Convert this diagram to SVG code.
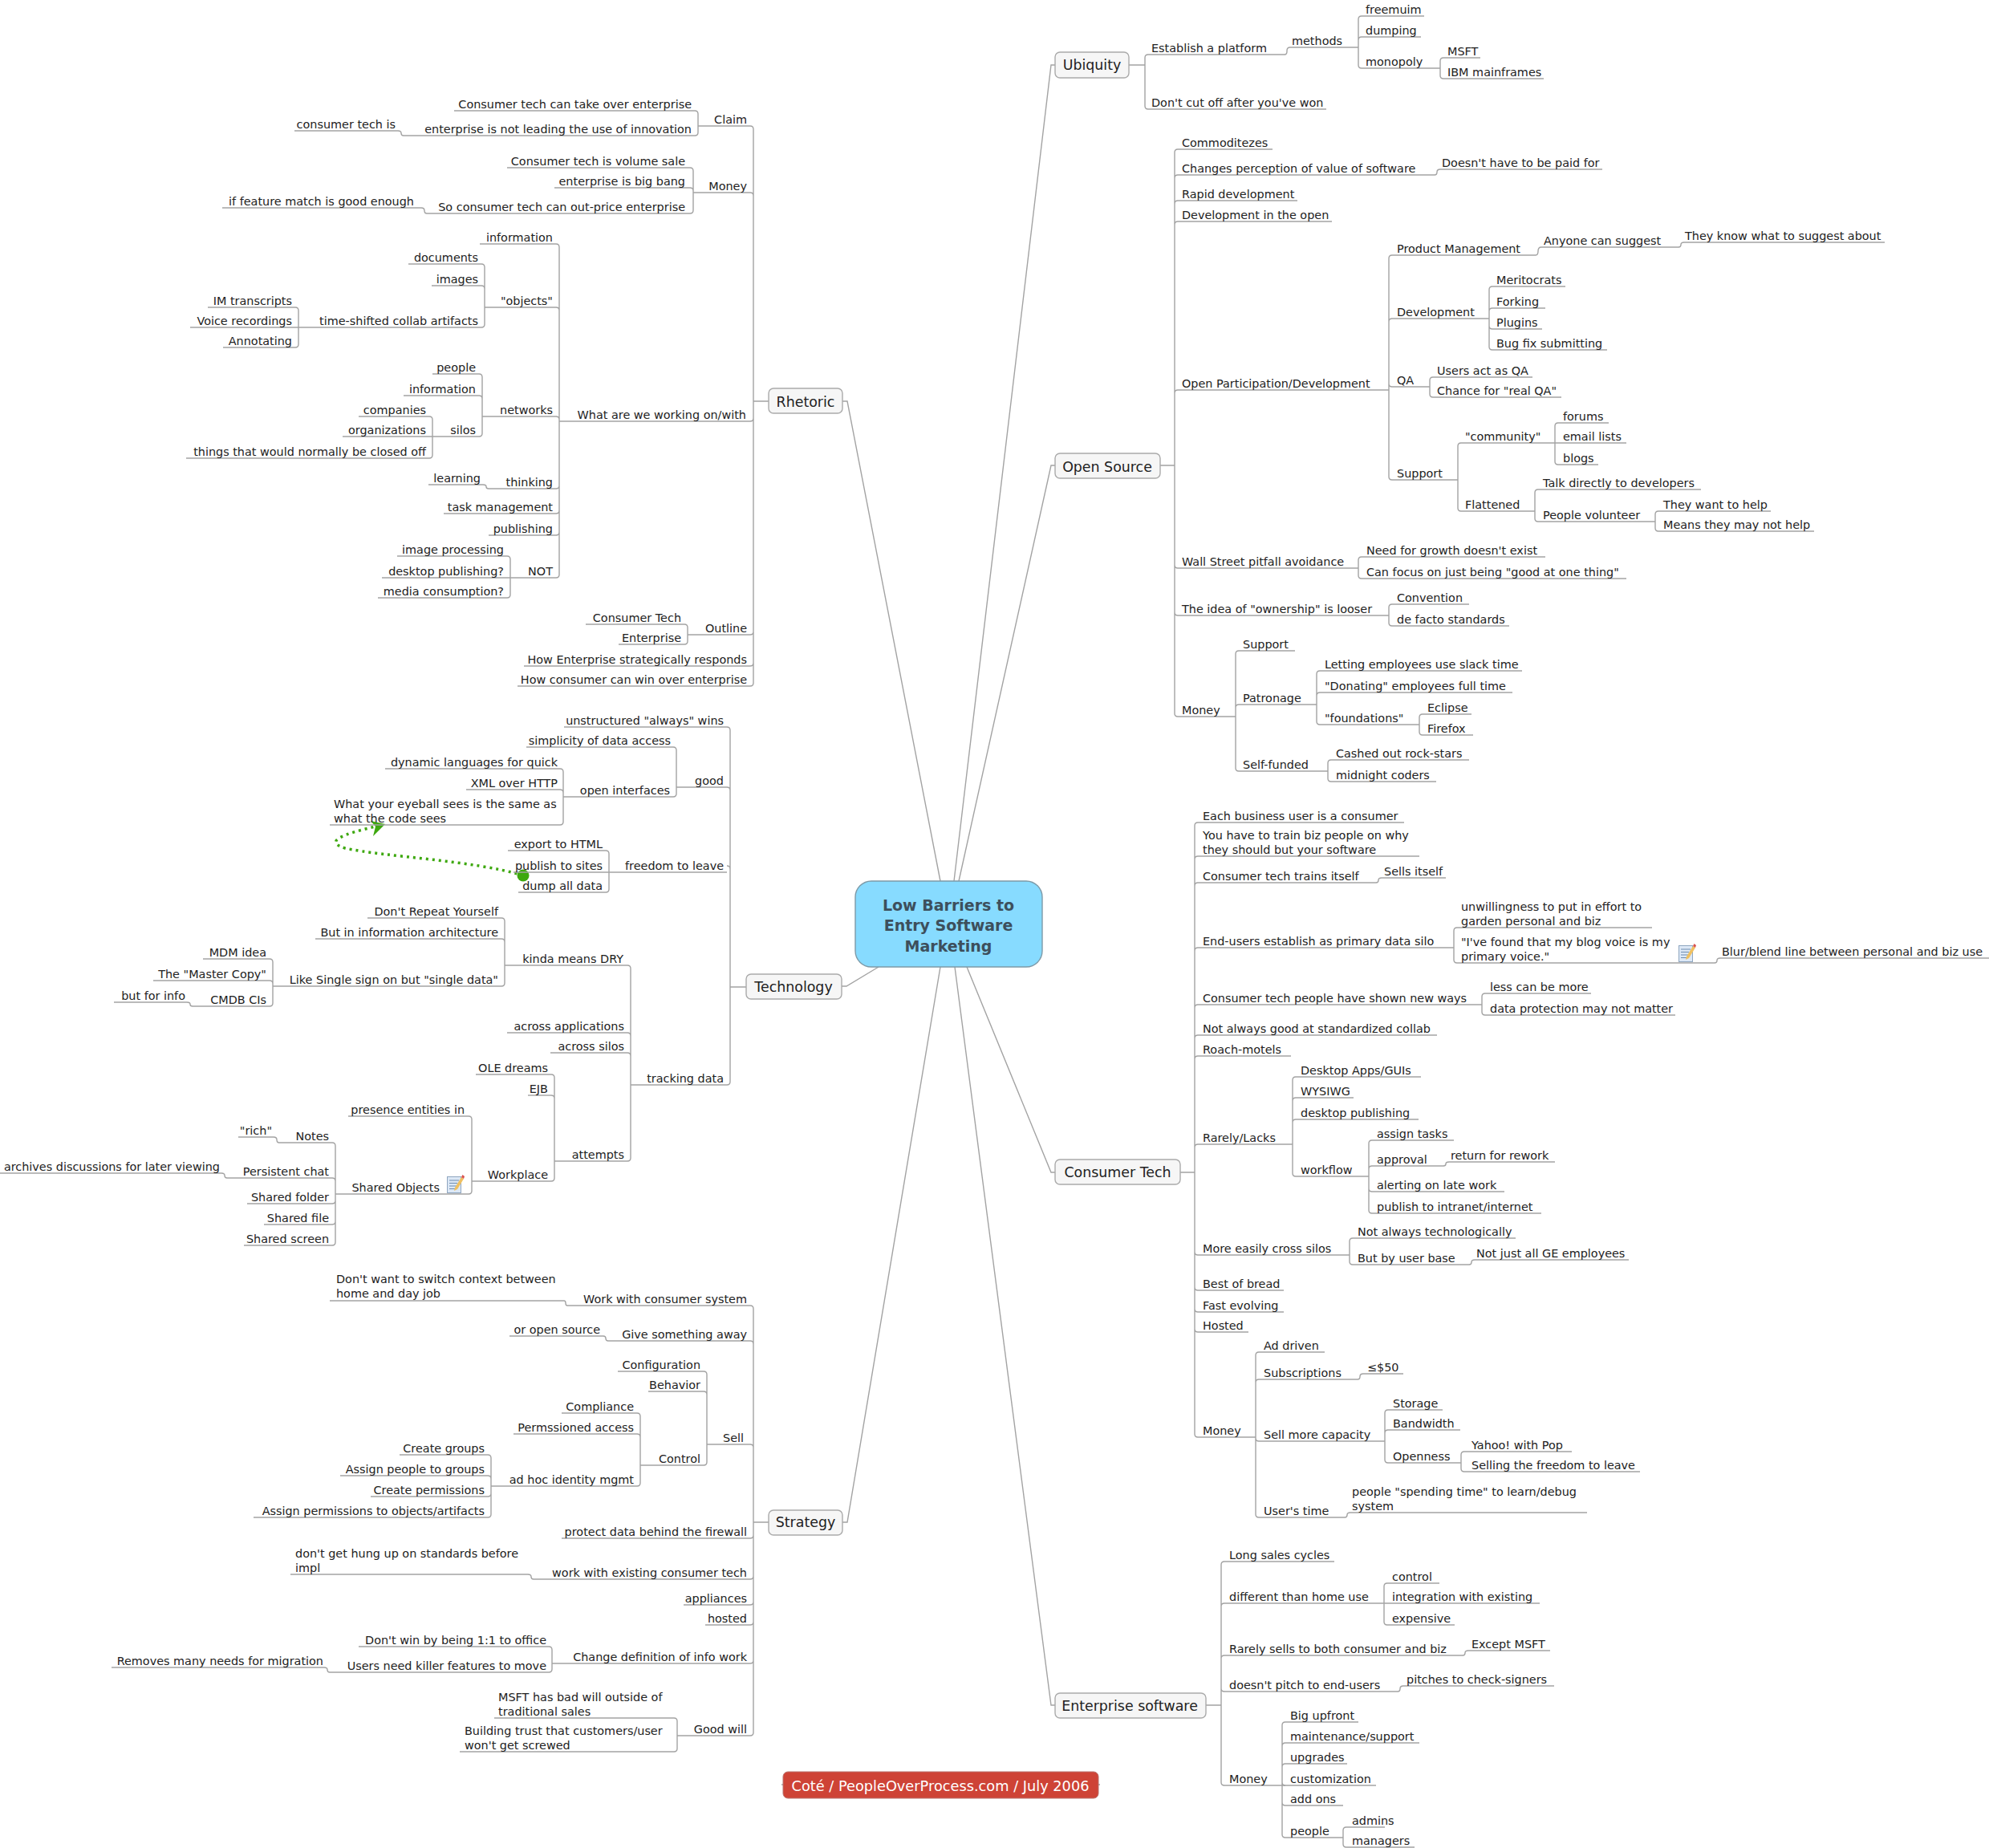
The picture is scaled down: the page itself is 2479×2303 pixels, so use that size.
<svg xmlns="http://www.w3.org/2000/svg" width="2479" height="2303" viewBox="0 0 2479 2303">
<style>
text{font-family:"DejaVu Sans",sans-serif;font-size:14.4px;fill:#222}
.e{text-anchor:end}
path{fill:none;stroke:#a3a3a3;stroke-width:1.4}
.b{fill:#f6f6f6;stroke:#aaa;stroke-width:1.4}
.t{font-size:17.4px;text-anchor:middle}
.c{font-size:19px;font-weight:bold;text-anchor:middle;fill:#3d4f5c}
</style>
<defs>
<symbol id="note" viewBox="0 0 22 24">
<rect x="0.5" y="3.5" width="17" height="20" fill="#dce8f6" stroke="#8fa6c0"/>
<path d="M3 8h12M3 11.5h10M3 15h9M3 18.500h8" style="stroke:#6f8db0;stroke-width:1"/>
<polygon points="10,17 18,4 21,6 13,19 9,21" fill="#f0c060"/>
<polygon points="18,4 19.500,1 22,3 21,6" fill="#d9534f"/>
</symbol>
</defs>
<rect width="2479" height="2303" fill="#fff"/>
<g id="connectors">
<path d="M1315 81H1310L1189 1098M1315 580H1310L1195 1098M1315 1461H1310L1205 1205M1315 2125H1310L1190 1205M1050 500H1056L1172 1098M1049 1229H1055L1095 1205M1050 1897H1056L1172 1205"/>
<path d="M1407 81H1427M1427 72V132M1427 72q0-4 4-4M1427 132q0 4 4 4"/>
<path d="M1601 68q3 0 3-4v-1q0-4 4-4"/>
<path d="M1693 24V81M1693 24q0-4 4-4M1693 50q0-4 4-4M1693 81q0 4 4 4"/>
<path d="M1795 76V94M1795 76q0-4 4-4M1795 94q0 4 4 4"/>
<path d="M1446 580H1464M1464 190V889M1464 190q0-4 4-4M1464 222q0-4 4-4M1464 254q0-4 4-4M1464 280q0-4 4-4M1464 490q0-4 4-4M1464 704q0 4 4 4M1464 763q0 4 4 4M1464 889q0 4 4 4"/>
<path d="M1788 218q3 0 3-3.500q0-3.500 4-3.500"/>
<path d="M1731 322V594M1731 322q0-4 4-4M1731 401q0-4 4-4M1731 478q0 4 4 4M1731 594q0 4 4 4"/>
<path d="M1914 318q3 0 3-5q0-5 4-5M2092 308q3 0 3-3q0-3 4-3"/>
<path d="M1856 361V432M1856 361q0-4 4-4M1856 388q0-4 4-4M1856 406q0 4 4 4M1856 432q0 4 4 4"/>
<path d="M1782 474V491M1782 474q0-4 4-4M1782 491q0 4 4 4"/>
<path d="M1817 556V633M1817 556q0-4 4-4M1817 633q0 4 4 4"/>
<path d="M1938 531V575M1938 531q0-4 4-4M1938 575q0 4 4 4"/>
<path d="M1913 614V646M1913 614q0-4 4-4M1913 646q0 4 4 4"/>
<path d="M2063 641V658M2063 641q0-4 4-4M2063 658q0 4 4 4"/>
<path d="M1693 698V717M1693 698q0-4 4-4M1693 717q0 4 4 4"/>
<path d="M1731 757V776M1731 757q0-4 4-4M1731 776q0 4 4 4"/>
<path d="M1540 815V957M1540 815q0-4 4-4M1540 882q0-4 4-4M1540 957q0 4 4 4"/>
<path d="M1641 840V899M1641 840q0-4 4-4M1641 867q0-4 4-4M1641 899q0 4 4 4"/>
<path d="M1769 894V912M1769 894q0-4 4-4M1769 912q0 4 4 4"/>
<path d="M1655 951V970M1655 951q0-4 4-4M1655 970q0 4 4 4"/>
<path d="M1471 1461H1489M1489 1029V1787M1489 1029q0-4 4-4M1489 1071q0-4 4-4M1489 1104q0-4 4-4M1489 1185q0-4 4-4M1489 1256q0-4 4-4M1489 1294q0-4 4-4M1489 1320q0-4 4-4M1489 1430q0-4 4-4M1489 1560q0 4 4 4M1489 1604q0 4 4 4M1489 1631q0 4 4 4M1489 1656q0 4 4 4M1489 1787q0 4 4 4"/>
<path d="M1715 1100q3 0 3-3q0-3 4-3"/>
<path d="M1812 1160V1196M1812 1160q0-4 4-4M1812 1196q0 4 4 4"/>
<path d="M2137 1200q3 0 3-3q0-3 4-3"/>
<path d="M1847 1242V1261M1847 1242q0-4 4-4M1847 1261q0 4 4 4"/>
<path d="M1611 1346V1462M1611 1346q0-4 4-4M1611 1372q0-4 4-4M1611 1399q0-4 4-4M1611 1462q0 4 4 4"/>
<path d="M1706 1425V1508M1706 1425q0-4 4-4M1706 1457q0-4 4-4M1706 1481q0 4 4 4M1706 1508q0 4 4 4"/>
<path d="M1799 1453q3 0 3-2.500q0-2.500 4-2.500"/>
<path d="M1682 1547V1572M1682 1547q0-4 4-4M1682 1572q0 4 4 4"/>
<path d="M1831 1576q3 0 3-3q0-3 4-3"/>
<path d="M1565 1689V1887M1565 1689q0-4 4-4M1565 1723q0-4 4-4M1565 1792q0 4 4 4M1565 1887q0 4 4 4"/>
<path d="M1692 1719q3 0 3-3.500q0-3.500 4-3.500"/>
<path d="M1726 1761V1819M1726 1761q0-4 4-4M1726 1786q0-4 4-4M1726 1819q0 4 4 4"/>
<path d="M1821 1813V1830M1821 1813q0-4 4-4M1821 1830q0 4 4 4"/>
<path d="M1676 1891q3 0 3-3q0-3 4-3"/>
<path d="M1503 2125H1522M1522 1950V2221M1522 1950q0-4 4-4M1522 2002q0-4 4-4M1522 2067q0-4 4-4M1522 2104q0 4 4 4M1522 2221q0 4 4 4"/>
<path d="M1725 1977V2021M1725 1977q0-4 4-4M1725 2021q0 4 4 4"/>
<path d="M1823 2063q3 0 3-3q0-3 4-3M1742 2108q3 0 3-3.500q0-3.500 4-3.500"/>
<path d="M1598 2150V2286M1598 2150q0-4 4-4M1598 2176q0-4 4-4M1598 2202q0-4 4-4M1598 2221q0 4 4 4M1598 2246q0 4 4 4M1598 2286q0 4 4 4"/>
<path d="M1674 2281V2298M1674 2281q0-4 4-4M1674 2298q0 4 4 4"/>
<path d="M958 500H939M939 161V851M939 161q0-4-4-4M939 244q0-4-4-4M939 521q0 4-4 4M939 787q0 4-4 4M939 826q0 4-4 4M939 851q0 4-4 4"/>
<path d="M870 142V165M870 142q0-4-4-4M870 165q0 4-4 4"/>
<path d="M503 169q-3 0-3-3q0-3-4-3"/>
<path d="M864 213V262M864 213q0-4-4-4M864 238q0-4-4-4M864 262q0 4-4 4"/>
<path d="M532 266q-3 0-3-3.500q0-3.500-4-3.500"/>
<path d="M697 308V716M697 308q0-4-4-4M697 387q0-4-4-4M697 523q0-4-4-4M697 605q0 4-4 4M697 636q0 4-4 4M697 663q0 4-4 4M697 716q0 4-4 4"/>
<path d="M604 333V404M604 333q0-4-4-4M604 360q0-4-4-4M604 404q0 4-4 4"/>
<path d="M372 387V429M372 387q0-4-4-4M372 429q0 4-4 4"/>
<path d="M601 470V540M601 470q0-4-4-4M601 497q0-4-4-4M601 540q0 4-4 4"/>
<path d="M539 523V567M539 523q0-4-4-4M539 567q0 4-4 4"/>
<path d="M609 609q-3 0-3-2.500q0-2.500-4-2.500"/>
<path d="M636 697V741M636 697q0-4-4-4M636 741q0 4-4 4"/>
<path d="M857 782V799M857 782q0-4-4-4M857 799q0 4-4 4"/>
<path d="M930 1230H910M910 910V1348M910 910q0-4-4-4M910 985q0-4-4-4M910 1083q0-4-4-4M910 1348q0 4-4 4"/>
<path d="M843 935V989M843 935q0-4-4-4M843 989q0 4-4 4"/>
<path d="M702 962V1024M702 962q0-4-4-4M702 988q0-4-4-4M702 1024q0 4-4 4"/>
<path d="M759 1064V1108M759 1064q0-4-4-4M759 1108q0 4-4 4"/>
<path d="M786 1207V1443M786 1207q0-4-4-4M786 1291q0-4-4-4M786 1316q0-4-4-4M786 1443q0 4-4 4"/>
<path d="M629 1148V1225M629 1148q0-4-4-4M629 1174q0-4-4-4M629 1225q0 4-4 4"/>
<path d="M340 1199V1250M340 1199q0-4-4-4M340 1226q0-4-4-4M340 1250q0 4-4 4"/>
<path d="M240 1254q-3 0-3-2.500q0-2.500-4-2.500"/>
<path d="M691 1343V1468M691 1343q0-4-4-4M691 1369q0-4-4-4M691 1468q0 4-4 4"/>
<path d="M588 1395V1484M588 1395q0-4-4-4M588 1484q0 4-4 4"/>
<path d="M418 1428V1548M418 1428q0-4-4-4M418 1472q0-4-4-4M418 1496q0 4-4 4M418 1522q0 4-4 4M418 1548q0 4-4 4"/>
<path d="M348 1424q-3 0-3-3.500q0-3.500-4-3.500M283 1468q-3 0-3-3q0-3-4-3"/>
<path d="M958 1897H939M939 1631V2159M939 1631q0-4-4-4M939 1675q0-4-4-4M939 1804q0-4-4-4M939 1913q0 4-4 4M939 1964q0 4-4 4M939 1996q0 4-4 4M939 2021q0 4-4 4M939 2069q0 4-4 4M939 2159q0 4-4 4"/>
<path d="M707 1627q-2 0-2-3q0-3-2-3M758 1671q-3 0-3-3q0-3-3-3M665 1968q-3 0-3-3q0-3-4-3"/>
<path d="M881 1713V1822M881 1713q0-4-4-4M881 1738q0-4-4-4M881 1822q0 4-4 4"/>
<path d="M798 1765V1848M798 1765q0-4-4-4M798 1791q0-4-4-4M798 1848q0 4-4 4"/>
<path d="M612 1817V1887M612 1817q0-4-4-4M612 1843q0-4-4-4M612 1861q0 4-4 4M612 1887q0 4-4 4"/>
<path d="M688 2056V2080M688 2056q0-4-4-4M688 2080q0 4-4 4"/>
<path d="M411 2084q-3 0-3-3q0-3-4-3"/>
<path d="M844 2145V2179M844 2145q0-4-4-4M844 2179q0 4-4 4"/>
<path d="M974 2224H976M1369 2224H1371"/>
<path d="M652 1091C590 1072 480 1068 430 1057C408 1050 416 1042 468 1030" style="stroke:#3ea80f;stroke-width:3.500;stroke-dasharray:3 5"/>
<circle cx="652" cy="1091" r="7.500" fill="#3ea80f"/>
<polygon points="480,1027 462,1023 468,1030 465,1042" fill="#3ea80f"/>
</g>
<g id="center"><rect x="1066" y="1098" width="233" height="107" rx="20" fill="#87dbff" stroke="#7d9aa8" stroke-width="1.400"/><text class="c" x="1182" y="1135">Low Barriers to</text><text class="c" x="1182" y="1160">Entry Software</text><text class="c" x="1182" y="1186">Marketing</text></g>
<g id="ubiquity"><rect class="b" x="1315" y="65" width="92" height="32" rx="6"/><text class="t" x="1361" y="87">Ubiquity</text></g>
<g id="n1"><path d="M1431 68H1601"/><text x="1435" y="65">Establish a platform</text></g>
<g id="n2"><path d="M1608 59H1693"/><text x="1610" y="56">methods</text></g>
<g id="n3"><path d="M1697 20H1775"/><text x="1702" y="17">freemuim</text></g>
<g id="n4"><path d="M1697 46H1771"/><text x="1702" y="43">dumping</text></g>
<g id="n5"><path d="M1697 85H1795"/><text x="1702" y="82">monopoly</text></g>
<g id="n6"><path d="M1799 72H1845"/><text x="1804" y="69">MSFT</text></g>
<g id="n7"><path d="M1799 98H1924"/><text x="1804" y="95">IBM mainframes</text></g>
<g id="n8"><path d="M1431 136H1653"/><text x="1435" y="133">Don't cut off after you've won</text></g>
<g id="open-source"><rect class="b" x="1315" y="565" width="131" height="31" rx="6"/><text class="t" x="1380" y="588">Open Source</text></g>
<g id="n9"><path d="M1468 186H1586"/><text x="1473" y="183">Commoditezes</text></g>
<g id="n10"><path d="M1468 218H1788"/><text x="1473" y="215">Changes perception of value of software</text></g>
<g id="n11"><path d="M1795 211H1997"/><text x="1797" y="208">Doesn't have to be paid for</text></g>
<g id="n12"><path d="M1468 250H1617"/><text x="1473" y="247">Rapid development</text></g>
<g id="n13"><path d="M1468 276H1660"/><text x="1473" y="273">Development in the open</text></g>
<g id="n14"><path d="M1468 486H1731"/><text x="1473" y="483">Open Participation/Development</text></g>
<g id="n15"><path d="M1735 318H1914"/><text x="1741" y="315">Product Management</text></g>
<g id="n16"><path d="M1921 308H2092"/><text x="1924" y="305">Anyone can suggest</text></g>
<g id="n17"><path d="M2099 302H2349"/><text x="2100" y="299">They know what to suggest about</text></g>
<g id="n18"><path d="M1735 397H1856"/><text x="1741" y="394">Development</text></g>
<g id="n19"><path d="M1860 357H1951"/><text x="1865" y="354">Meritocrats</text></g>
<g id="n20"><path d="M1860 384H1926"/><text x="1865" y="381">Forking</text></g>
<g id="n21"><path d="M1860 410H1922"/><text x="1865" y="407">Plugins</text></g>
<g id="n22"><path d="M1860 436H2003"/><text x="1865" y="433">Bug fix submitting</text></g>
<g id="n23"><path d="M1735 482H1782"/><text x="1741" y="479">QA</text></g>
<g id="n24"><path d="M1786 470H1910"/><text x="1791" y="467">Users act as QA</text></g>
<g id="n25"><path d="M1786 495H1946"/><text x="1791" y="492">Chance for "real QA"</text></g>
<g id="n26"><path d="M1735 598H1817"/><text x="1741" y="595">Support</text></g>
<g id="n27"><path d="M1821 552H1938"/><text x="1826" y="549">"community"</text></g>
<g id="n28"><path d="M1942 527H2005"/><text x="1948" y="524">forums</text></g>
<g id="n29"><path d="M1938 552H2027"/><text x="1948" y="549">email lists</text></g>
<g id="n30"><path d="M1942 579H1992"/><text x="1948" y="576">blogs</text></g>
<g id="n31"><path d="M1821 637H1913"/><text x="1826" y="634">Flattened</text></g>
<g id="n32"><path d="M1917 610H2120"/><text x="1923" y="607">Talk directly to developers</text></g>
<g id="n33"><path d="M1917 650H2063"/><text x="1923" y="647">People volunteer</text></g>
<g id="n34"><path d="M2067 637H2207"/><text x="2073" y="634">They want to help</text></g>
<g id="n35"><path d="M2067 662H2261"/><text x="2073" y="659">Means they may not help</text></g>
<g id="n36"><path d="M1468 708H1693"/><text x="1473" y="705">Wall Street pitfall avoidance</text></g>
<g id="n37"><path d="M1697 694H1926"/><text x="1703" y="691">Need for growth doesn't exist</text></g>
<g id="n38"><path d="M1697 721H2027"/><text x="1703" y="718">Can focus on just being "good at one thing"</text></g>
<g id="n39"><path d="M1468 767H1731"/><text x="1473" y="764">The idea of "ownership" is looser</text></g>
<g id="n40"><path d="M1735 753H1831"/><text x="1741" y="750">Convention</text></g>
<g id="n41"><path d="M1735 780H1881"/><text x="1741" y="777">de facto standards</text></g>
<g id="n42"><path d="M1468 893H1540"/><text x="1473" y="890">Money</text></g>
<g id="n43"><path d="M1544 811H1614"/><text x="1549" y="808">Support</text></g>
<g id="n44"><path d="M1544 878H1641"/><text x="1549" y="875">Patronage</text></g>
<g id="n45"><path d="M1645 836H1897"/><text x="1651" y="833">Letting employees use slack time</text></g>
<g id="n46"><path d="M1645 863H1885"/><text x="1651" y="860">"Donating" employees full time</text></g>
<g id="n47"><path d="M1645 903H1769"/><text x="1651" y="900">"foundations"</text></g>
<g id="n48"><path d="M1773 890H1834"/><text x="1779" y="887">Eclipse</text></g>
<g id="n49"><path d="M1773 916H1836"/><text x="1779" y="913">Firefox</text></g>
<g id="n50"><path d="M1544 961H1655"/><text x="1549" y="958">Self-funded</text></g>
<g id="n51"><path d="M1659 947H1831"/><text x="1665" y="944">Cashed out rock-stars</text></g>
<g id="n52"><path d="M1659 974H1790"/><text x="1665" y="971">midnight coders</text></g>
<g id="consumer-tech"><rect class="b" x="1315" y="1445" width="156" height="31" rx="6"/><text class="t" x="1393" y="1467">Consumer Tech</text></g>
<g id="n53"><path d="M1493 1025H1750"/><text x="1499" y="1022">Each business user is a consumer</text></g>
<g id="n54"><path d="M1493 1067H1769"/><text x="1499" y="1046">You have to train biz people on why</text><text x="1499" y="1064">they should but your software</text></g>
<g id="n55"><path d="M1493 1100H1715"/><text x="1499" y="1097">Consumer tech trains itself</text></g>
<g id="n56"><path d="M1722 1094H1802"/><text x="1725" y="1091">Sells itself</text></g>
<g id="n57"><path d="M1493 1181H1812"/><text x="1499" y="1178">End-users establish as primary data silo</text></g>
<g id="n58"><path d="M1816 1156H2059"/><text x="1821" y="1135">unwillingness to put in effort to</text><text x="1821" y="1153">garden personal and biz</text></g>
<g id="n59"><path d="M1816 1200H2137"/><text x="1821" y="1179">"I've found that my blog voice is my</text><text x="1821" y="1197">primary voice."</text><use href="#note" x="2092" y="1175" width="22" height="24"/></g>
<g id="n60"><path d="M2144 1194H2479"/><text x="2146" y="1191">Blur/blend line between personal and biz use</text></g>
<g id="n61"><path d="M1493 1252H1847"/><text x="1499" y="1249">Consumer tech people have shown new ways</text></g>
<g id="n62"><path d="M1851 1238H1983"/><text x="1857" y="1235">less can be more</text></g>
<g id="n63"><path d="M1851 1265H2088"/><text x="1857" y="1262">data protection may not matter</text></g>
<g id="n64"><path d="M1493 1290H1791"/><text x="1499" y="1287">Not always good at standardized collab</text></g>
<g id="n65"><path d="M1493 1316H1609"/><text x="1499" y="1313">Roach-motels</text></g>
<g id="n66"><path d="M1493 1426H1611"/><text x="1499" y="1423">Rarely/Lacks</text></g>
<g id="n67"><path d="M1615 1342H1771"/><text x="1621" y="1339">Desktop Apps/GUIs</text></g>
<g id="n68"><path d="M1615 1368H1687"/><text x="1621" y="1365">WYSIWG</text></g>
<g id="n69"><path d="M1615 1395H1768"/><text x="1621" y="1392">desktop publishing</text></g>
<g id="n70"><path d="M1615 1466H1706"/><text x="1621" y="1463">workflow</text></g>
<g id="n71"><path d="M1710 1421H1812"/><text x="1716" y="1418">assign tasks</text></g>
<g id="n72"><path d="M1710 1453H1799"/><text x="1716" y="1450">approval</text></g>
<g id="n73"><path d="M1806 1448H1938"/><text x="1808" y="1445">return for rework</text></g>
<g id="n74"><path d="M1710 1485H1875"/><text x="1716" y="1482">alerting on late work</text></g>
<g id="n75"><path d="M1710 1512H1921"/><text x="1716" y="1509">publish to intranet/internet</text></g>
<g id="n76"><path d="M1493 1564H1682"/><text x="1499" y="1561">More easily cross silos</text></g>
<g id="n77"><path d="M1686 1543H1889"/><text x="1692" y="1540">Not always technologically</text></g>
<g id="n78"><path d="M1686 1576H1831"/><text x="1692" y="1573">But by user base</text></g>
<g id="n79"><path d="M1838 1570H2030"/><text x="1840" y="1567">Not just all GE employees</text></g>
<g id="n80"><path d="M1493 1608H1600"/><text x="1499" y="1605">Best of bread</text></g>
<g id="n81"><path d="M1493 1635H1600"/><text x="1499" y="1632">Fast evolving</text></g>
<g id="n82"><path d="M1493 1660H1556"/><text x="1499" y="1657">Hosted</text></g>
<g id="n83"><path d="M1493 1791H1565"/><text x="1499" y="1788">Money</text></g>
<g id="n84"><path d="M1569 1685H1651"/><text x="1575" y="1682">Ad driven</text></g>
<g id="n85"><path d="M1569 1719H1692"/><text x="1575" y="1716">Subscriptions</text></g>
<g id="n86"><path d="M1699 1712H1749"/><text x="1704" y="1709">≤$50</text></g>
<g id="n87"><path d="M1569 1796H1726"/><text x="1575" y="1793">Sell more capacity</text></g>
<g id="n88"><path d="M1730 1757H1798"/><text x="1736" y="1754">Storage</text></g>
<g id="n89"><path d="M1730 1782H1820"/><text x="1736" y="1779">Bandwidth</text></g>
<g id="n90"><path d="M1730 1823H1821"/><text x="1736" y="1820">Openness</text></g>
<g id="n91"><path d="M1825 1809H1959"/><text x="1834" y="1806">Yahoo! with Pop</text></g>
<g id="n92"><path d="M1825 1834H2044"/><text x="1834" y="1831">Selling the freedom to leave</text></g>
<g id="n93"><path d="M1569 1891H1676"/><text x="1575" y="1888">User's time</text></g>
<g id="n94"><path d="M1683 1885H1978"/><text x="1685" y="1864">people "spending time" to learn/debug</text><text x="1685" y="1882">system</text></g>
<g id="enterprise-software"><rect class="b" x="1315" y="2110" width="188" height="31" rx="6"/><text class="t" x="1408" y="2132">Enterprise software</text></g>
<g id="n95"><path d="M1526 1946H1663"/><text x="1532" y="1943">Long sales cycles</text></g>
<g id="n96"><path d="M1526 1998H1725"/><text x="1532" y="1995">different than home use</text></g>
<g id="n97"><path d="M1729 1973H1794"/><text x="1735" y="1970">control</text></g>
<g id="n98"><path d="M1725 1998H1919"/><text x="1735" y="1995">integration with existing</text></g>
<g id="n99"><path d="M1729 2025H1813"/><text x="1735" y="2022">expensive</text></g>
<g id="n100"><path d="M1526 2063H1823"/><text x="1532" y="2060">Rarely sells to both consumer and biz</text></g>
<g id="n101"><path d="M1830 2057H1932"/><text x="1834" y="2054">Except MSFT</text></g>
<g id="n102"><path d="M1526 2108H1742"/><text x="1532" y="2105">doesn't pitch to end-users</text></g>
<g id="n103"><path d="M1749 2101H1937"/><text x="1753" y="2098">pitches to check-signers</text></g>
<g id="n104"><path d="M1526 2225H1598"/><text x="1532" y="2222">Money</text></g>
<g id="n105"><path d="M1602 2146H1693"/><text x="1608" y="2143">Big upfront</text></g>
<g id="n106"><path d="M1602 2172H1769"/><text x="1608" y="2169">maintenance/support</text></g>
<g id="n107"><path d="M1602 2198H1679"/><text x="1608" y="2195">upgrades</text></g>
<g id="n108"><path d="M1598 2225H1715"/><text x="1608" y="2222">customization</text></g>
<g id="n109"><path d="M1602 2250H1674"/><text x="1608" y="2247">add ons</text></g>
<g id="n110"><path d="M1602 2290H1674"/><text x="1608" y="2287">people</text></g>
<g id="n111"><path d="M1678 2277H1726"/><text x="1685" y="2274">admins</text></g>
<g id="n112"><path d="M1678 2302H1763"/><text x="1685" y="2299">managers</text></g>
<g id="rhetoric"><rect class="b" x="958" y="484" width="92" height="31" rx="6"/><text class="t" x="1004" y="507">Rhetoric</text></g>
<g id="n113"><path d="M935 157H870"/><text class="e" x="931" y="154">Claim</text></g>
<g id="n114"><path d="M866 138H566"/><text class="e" x="862" y="135">Consumer tech can take over enterprise</text></g>
<g id="n115"><path d="M866 169H503"/><text class="e" x="862" y="166">enterprise is not leading the use of innovation</text></g>
<g id="n116"><path d="M496 163H367"/><text class="e" x="493" y="160">consumer tech is</text></g>
<g id="n117"><path d="M935 240H864"/><text class="e" x="931" y="237">Money</text></g>
<g id="n118"><path d="M860 209H632"/><text class="e" x="854" y="206">Consumer tech is volume sale</text></g>
<g id="n119"><path d="M860 234H691"/><text class="e" x="854" y="231">enterprise is big bang</text></g>
<g id="n120"><path d="M860 266H532"/><text class="e" x="854" y="263">So consumer tech can out-price enterprise</text></g>
<g id="n121"><path d="M525 259H277"/><text class="e" x="516" y="256">if feature match is good enough</text></g>
<g id="n122"><path d="M935 525H697"/><text class="e" x="930" y="522">What are we working on/with</text></g>
<g id="n123"><path d="M693 304H598"/><text class="e" x="689" y="301">information</text></g>
<g id="n124"><path d="M693 383H604"/><text class="e" x="689" y="380">"objects"</text></g>
<g id="n125"><path d="M600 329H509"/><text class="e" x="596" y="326">documents</text></g>
<g id="n126"><path d="M600 356H538"/><text class="e" x="596" y="353">images</text></g>
<g id="n127"><path d="M600 408H372"/><text class="e" x="596" y="405">time-shifted collab artifacts</text></g>
<g id="n128"><path d="M368 383H259"/><text class="e" x="364" y="380">IM transcripts</text></g>
<g id="n129"><path d="M372 408H237"/><text class="e" x="364" y="405">Voice recordings</text></g>
<g id="n130"><path d="M368 433H278"/><text class="e" x="364" y="430">Annotating</text></g>
<g id="n131"><path d="M693 519H601"/><text class="e" x="689" y="516">networks</text></g>
<g id="n132"><path d="M597 466H539"/><text class="e" x="593" y="463">people</text></g>
<g id="n133"><path d="M597 493H503"/><text class="e" x="593" y="490">information</text></g>
<g id="n134"><path d="M597 544H539"/><text class="e" x="593" y="541">silos</text></g>
<g id="n135"><path d="M535 519H447"/><text class="e" x="531" y="516">companies</text></g>
<g id="n136"><path d="M539 544H427"/><text class="e" x="531" y="541">organizations</text></g>
<g id="n137"><path d="M535 571H232"/><text class="e" x="531" y="568">things that would normally be closed off</text></g>
<g id="n138"><path d="M693 609H609"/><text class="e" x="689" y="606">thinking</text></g>
<g id="n139"><path d="M602 604H534"/><text class="e" x="599" y="601">learning</text></g>
<g id="n140"><path d="M693 640H553"/><text class="e" x="689" y="637">task management</text></g>
<g id="n141"><path d="M693 667H609"/><text class="e" x="689" y="664">publishing</text></g>
<g id="n142"><path d="M693 720H636"/><text class="e" x="689" y="717">NOT</text></g>
<g id="n143"><path d="M632 693H495"/><text class="e" x="628" y="690">image processing</text></g>
<g id="n144"><path d="M636 720H476"/><text class="e" x="628" y="717">desktop publishing?</text></g>
<g id="n145"><path d="M632 745H471"/><text class="e" x="628" y="742">media consumption?</text></g>
<g id="n146"><path d="M935 791H857"/><text class="e" x="931" y="788">Outline</text></g>
<g id="n147"><path d="M853 778H730"/><text class="e" x="849" y="775">Consumer Tech</text></g>
<g id="n148"><path d="M853 803H771"/><text class="e" x="849" y="800">Enterprise</text></g>
<g id="n149"><path d="M935 830H653"/><text class="e" x="931" y="827">How Enterprise strategically responds</text></g>
<g id="n150"><path d="M935 855H645"/><text class="e" x="931" y="852">How consumer can win over enterprise</text></g>
<g id="technology"><rect class="b" x="930" y="1214" width="119" height="31" rx="6"/><text class="t" x="989" y="1236">Technology</text></g>
<g id="n151"><path d="M906 906H703"/><text class="e" x="902" y="903">unstructured "always" wins</text></g>
<g id="n152"><path d="M906 981H843"/><text class="e" x="902" y="978">good</text></g>
<g id="n153"><path d="M839 931H656"/><text class="e" x="836" y="928">simplicity of data access</text></g>
<g id="n154"><path d="M839 993H702"/><text class="e" x="835" y="990">open interfaces</text></g>
<g id="n155"><path d="M698 958H480"/><text class="e" x="695" y="955">dynamic languages for quick</text></g>
<g id="n156"><path d="M698 984H581"/><text class="e" x="695" y="981">XML over HTTP</text></g>
<g id="n157"><path d="M698 1028H411"/><text x="416" y="1007">What your eyeball sees is the same as</text><text x="416" y="1025">what the code sees</text></g>
<g id="n158"><path d="M906 1087H759"/><text class="e" x="902" y="1084">freedom to leave</text></g>
<g id="n159"><path d="M755 1060H633"/><text class="e" x="751" y="1057">export to HTML</text></g>
<g id="n160"><path d="M759 1087H640"/><text class="e" x="751" y="1084">publish to sites</text></g>
<g id="n161"><path d="M755 1112H646"/><text class="e" x="751" y="1109">dump all data</text></g>
<g id="n162"><path d="M906 1352H786"/><text class="e" x="902" y="1349">tracking data</text></g>
<g id="n163"><path d="M782 1203H629"/><text class="e" x="777" y="1200">kinda means DRY</text></g>
<g id="n164"><path d="M625 1144H458"/><text class="e" x="621" y="1141">Don't Repeat Yourself</text></g>
<g id="n165"><path d="M625 1170H393"/><text class="e" x="621" y="1167">But in information architecture</text></g>
<g id="n166"><path d="M625 1229H340"/><text class="e" x="621" y="1226">Like Single sign on but "single data"</text></g>
<g id="n167"><path d="M336 1195H253"/><text class="e" x="332" y="1192">MDM idea</text></g>
<g id="n168"><path d="M336 1222H191"/><text class="e" x="332" y="1219">The "Master Copy"</text></g>
<g id="n169"><path d="M336 1254H240"/><text class="e" x="332" y="1251">CMDB CIs</text></g>
<g id="n170"><path d="M233 1249H142"/><text class="e" x="231" y="1246">but for info</text></g>
<g id="n171"><path d="M782 1287H632"/><text class="e" x="778" y="1284">across applications</text></g>
<g id="n172"><path d="M782 1312H686"/><text class="e" x="778" y="1309">across silos</text></g>
<g id="n173"><path d="M782 1447H691"/><text class="e" x="778" y="1444">attempts</text></g>
<g id="n174"><path d="M687 1339H593"/><text class="e" x="683" y="1336">OLE dreams</text></g>
<g id="n175"><path d="M687 1365H658"/><text class="e" x="683" y="1362">EJB</text></g>
<g id="n176"><path d="M687 1472H588"/><text class="e" x="683" y="1469">Workplace</text></g>
<g id="n177"><path d="M584 1391H434"/><text class="e" x="579" y="1388">presence entities in</text></g>
<g id="n178"><path d="M584 1488H418"/><text class="e" x="548" y="1485">Shared Objects</text><use href="#note" x="557" y="1463" width="22" height="24"/></g>
<g id="n179"><path d="M414 1424H348"/><text class="e" x="410" y="1421">Notes</text></g>
<g id="n180"><path d="M341 1417H297"/><text class="e" x="339" y="1414">"rich"</text></g>
<g id="n181"><path d="M414 1468H283"/><text class="e" x="410" y="1465">Persistent chat</text></g>
<g id="n182"><path d="M276 1462H0"/><text class="e" x="274" y="1459">archives discussions for later viewing</text></g>
<g id="n183"><path d="M414 1500H308"/><text class="e" x="410" y="1497">Shared folder</text></g>
<g id="n184"><path d="M414 1526H329"/><text class="e" x="410" y="1523">Shared file</text></g>
<g id="n185"><path d="M414 1552H304"/><text class="e" x="410" y="1549">Shared screen</text></g>
<g id="strategy"><rect class="b" x="958" y="1882" width="92" height="31" rx="6"/><text class="t" x="1004" y="1903">Strategy</text></g>
<g id="n186"><path d="M935 1627H707"/><text class="e" x="931" y="1624">Work with consumer system</text></g>
<g id="n187"><path d="M703 1621H411"/><text x="419" y="1599">Don't want to switch context between</text><text x="419" y="1617">home and day job</text></g>
<g id="n188"><path d="M935 1671H758"/><text class="e" x="931" y="1668">Give something away</text></g>
<g id="n189"><path d="M752 1665H635"/><text class="e" x="748" y="1662">or open source</text></g>
<g id="n190"><path d="M935 1800H881"/><text class="e" x="927" y="1797">Sell</text></g>
<g id="n191"><path d="M877 1709H770"/><text class="e" x="873" y="1706">Configuration</text></g>
<g id="n192"><path d="M877 1734H808"/><text class="e" x="873" y="1731">Behavior</text></g>
<g id="n193"><path d="M877 1826H798"/><text class="e" x="873" y="1823">Control</text></g>
<g id="n194"><path d="M794 1761H700"/><text class="e" x="790" y="1758">Compliance</text></g>
<g id="n195"><path d="M794 1787H640"/><text class="e" x="790" y="1784">Permssioned access</text></g>
<g id="n196"><path d="M794 1852H612"/><text class="e" x="790" y="1849">ad hoc identity mgmt</text></g>
<g id="n197"><path d="M608 1813H498"/><text class="e" x="604" y="1810">Create groups</text></g>
<g id="n198"><path d="M608 1839H424"/><text class="e" x="604" y="1836">Assign people to groups</text></g>
<g id="n199"><path d="M608 1865H462"/><text class="e" x="604" y="1862">Create permissions</text></g>
<g id="n200"><path d="M608 1891H316"/><text class="e" x="604" y="1888">Assign permissions to objects/artifacts</text></g>
<g id="n201"><path d="M935 1917H700"/><text class="e" x="931" y="1914">protect data behind the firewall</text></g>
<g id="n202"><path d="M935 1968H665"/><text class="e" x="931" y="1965">work with existing consumer tech</text></g>
<g id="n203"><path d="M658 1962H362"/><text x="368" y="1941">don't get hung up on standards before</text><text x="368" y="1959">impl</text></g>
<g id="n204"><path d="M935 2000H852"/><text class="e" x="931" y="1997">appliances</text></g>
<g id="n205"><path d="M935 2025H879"/><text class="e" x="931" y="2022">hosted</text></g>
<g id="n206"><path d="M935 2073H688"/><text class="e" x="931" y="2070">Change definition of info work</text></g>
<g id="n207"><path d="M684 2052H447"/><text class="e" x="681" y="2049">Don't win by being 1:1 to office</text></g>
<g id="n208"><path d="M684 2084H411"/><text class="e" x="681" y="2081">Users need killer features to move</text></g>
<g id="n209"><path d="M404 2078H139"/><text class="e" x="403" y="2075">Removes many needs for migration</text></g>
<g id="n210"><path d="M935 2163H844"/><text class="e" x="931" y="2160">Good will</text></g>
<g id="n211"><path d="M840 2141H616"/><text x="621" y="2120">MSFT has bad will outside of</text><text x="621" y="2138">traditional sales</text></g>
<g id="n212"><path d="M840 2183H573"/><text x="579" y="2162">Building trust that customers/user</text><text x="579" y="2180">won't get screwed</text></g>
<g id="footer"><rect x="976" y="2208" width="393" height="33" rx="6" fill="#ce4336" stroke="#b9706a"/><text class="t" x="1172" y="2232" style="fill:#fff" textLength="371" lengthAdjust="spacingAndGlyphs">Coté / PeopleOverProcess.com / July 2006</text></g>
</svg>
